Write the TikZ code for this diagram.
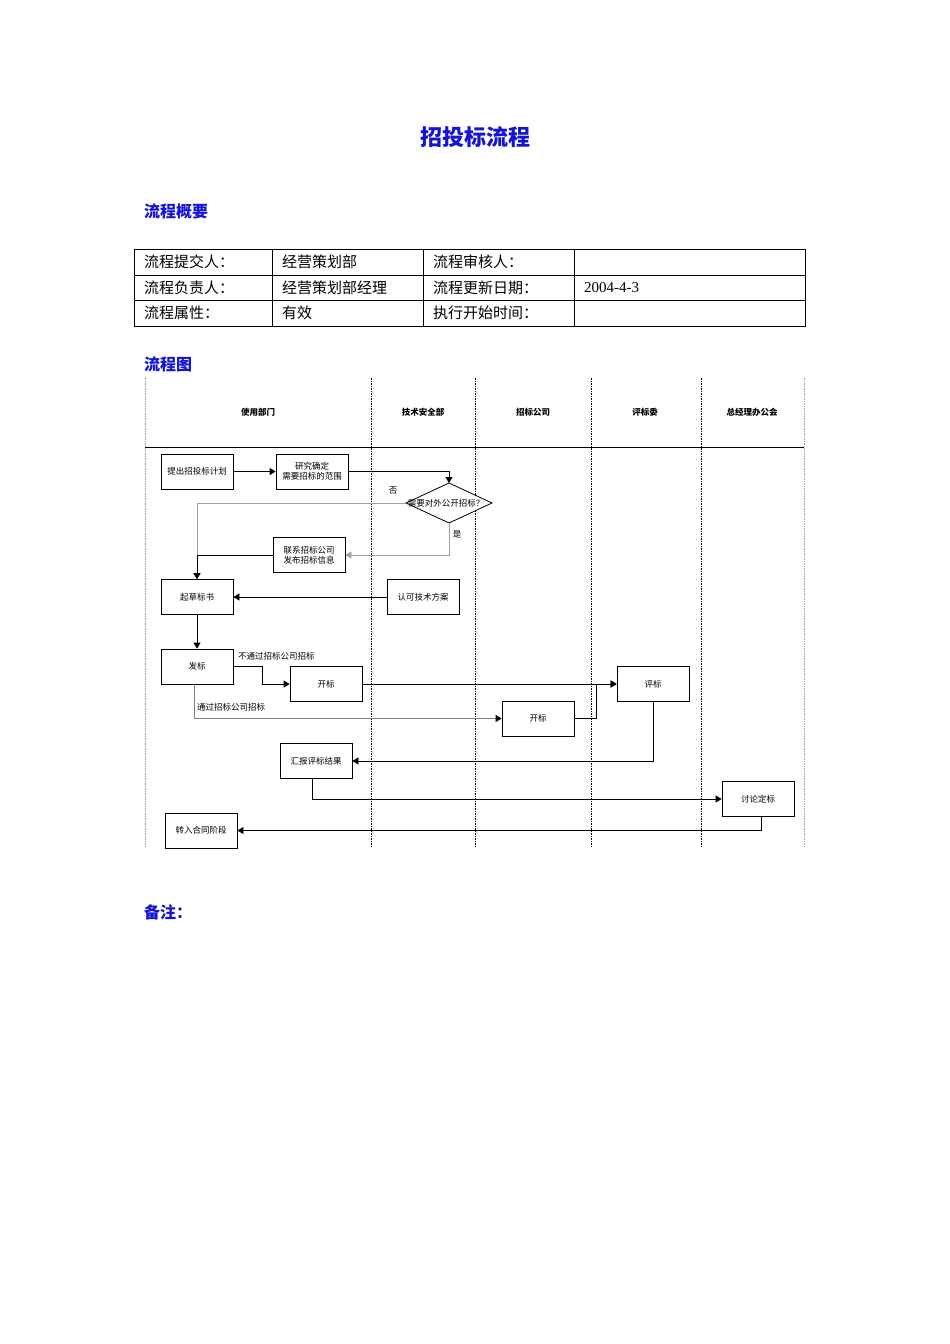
\documentclass[tikz,border=0pt]{standalone}
\usepackage{fontspec}
\setmainfont{Liberation Serif}
\newfontfamily\cjk{Noto Sans CJK SC}
\usetikzlibrary{arrows.meta}
\definecolor{titleblue}{RGB}{20,20,210}
\definecolor{lightline}{RGB}{160,160,160}
\definecolor{midline}{RGB}{130,130,130}
\tikzset{
  stepbox/.style={draw=black, line width=0.8pt, minimum width=72pt, minimum height=35pt, inner sep=0pt, align=center, font=\cjk\fontsize{8.5}{10}\selectfont},
  flow/.style={line width=0.8pt, draw=black, -{Triangle[length=6pt,width=7pt,color=black]}},
  grayflow/.style={line width=0.8pt, draw=lightline, -{Triangle[length=6pt,width=7pt,color=lightline]}},
  midflow/.style={line width=1pt, draw=midline, -{Triangle[length=6pt,width=7pt,color=black]}},
  heading/.style={anchor=west, text=titleblue, font=\cjk\bfseries\fontsize{16}{18}\selectfont, inner sep=0pt},
  cell/.style={anchor=west, inner sep=0pt, font=\cjk\fontsize{15}{17}\selectfont},
  lanehead/.style={font=\cjk\bfseries\fontsize{8.5}{10}\selectfont, inner sep=0pt},
  lane/.style={line width=0.8pt, dash pattern=on 1.5pt off 1pt},
  label/.style={font=\cjk\fontsize{8.5}{10}\selectfont, inner sep=0pt},
}
\begin{document}
\begin{tikzpicture}[x=1pt,y=-1pt]
\useasboundingbox[fill=white] (0,0) rectangle (950,1344);

% Title and headings
\node[text=titleblue, font=\cjk\bfseries\fontsize{22}{24}\selectfont, inner sep=0pt] (title) at (475,137) {招投标流程};
\node[heading] (h1) at (144,211) {流程概要};
\node[heading] (h2) at (144,364) {流程图};
\node[heading] (h3) at (144,912) {备注：};

% Table
\draw[line width=1pt] (134,249) rectangle (805,326);
\draw[line width=0.8pt] (134,275) -- (805,275) (134,300) -- (805,300);
\draw[line width=0.8pt] (272,249) -- (272,326) (423,249) -- (423,326) (574,249) -- (574,326);
\node[cell] (c11) at (144,262) {流程提交人：};
\node[cell] (c12) at (282,262) {经营策划部};
\node[cell] (c13) at (433,262) {流程审核人：};
\node[cell] (c21) at (144,288) {流程负责人：};
\node[cell] (c22) at (282,288) {经营策划部经理};
\node[cell] (c23) at (433,288) {流程更新日期：};
\node[anchor=west, inner sep=0pt, font=\fontsize{15}{17}\selectfont] (c24) at (584,288) {2004-4-3};
\node[cell] (c31) at (144,313) {流程属性：};
\node[cell] (c32) at (282,313) {有效};
\node[cell] (c33) at (433,313) {执行开始时间：};

% Swimlanes
\draw[lane, draw=lightline] (145,378) -- (145,848);
\draw[lane, draw=lightline] (804,378) -- (804,848);
\foreach \lx in {371,475,591,701} {\draw[lane, draw=black] (\lx,378) -- (\lx,848);}
\draw[line width=0.8pt] (145,447) -- (804,447);
\node[lanehead] (l1) at (258,412) {使用部门};
\node[lanehead] (l2) at (423,412) {技术安全部};
\node[lanehead] (l3) at (533,412) {招标公司};
\node[lanehead] (l4) at (645,412) {评标委};
\node[lanehead] (l5) at (752,412) {总经理办公会};

% Nodes
\node[stepbox] (plan) at (197,471.5) {提出招投标计划};
\node[stepbox] (study) at (312,471.5) {研究确定\\需要招标的范围};
\draw[line width=0.8pt, fill=white] (406,503) -- (449,483) -- (492,503) -- (449,523) -- cycle;
\coordinate (diaT) at (449,483);
\coordinate (diaL) at (406,503);
\coordinate (diaB) at (449,523);
\node[label] (diatext) at (446,503) {需要对外公开招标？};
\node[stepbox] (contact) at (309,555) {联系招标公司\\发布招标信息};
\node[stepbox] (draft) at (197,597) {起草标书};
\node[stepbox] (approve) at (423,597) {认可技术方案};
\node[stepbox] (issue) at (197,666.5) {发标};
\node[stepbox] (open1) at (326,684) {开标};
\node[stepbox] (eval) at (653,684) {评标};
\node[stepbox] (open2) at (538,718.5) {开标};
\node[stepbox] (report) at (316,761) {汇报评标结果};
\node[stepbox] (decide) at (758,799) {讨论定标};
\node[stepbox] (contract) at (201,830.5) {转入合同阶段};
\coordinate (issueB) at (194,684);
\coordinate (reportB) at (312,778.5);
\coordinate (decideB) at (761,816.5);

% Connectors
\draw[flow] (plan.east) -- (study.west);
\draw[flow] (study.east) -| (diaT);
\draw[grayflow] (diaL) -| (draft.north);
\node[label] (no) at (393,491) {否};
\draw[grayflow] (diaB) |- (contact.east);
\node[label] (yes) at (457,534) {是};
\draw[flow] (contact.west) -| (draft.north);
\draw[flow] (approve.west) -- (draft.east);
\draw[flow] (draft.south) -- (issue.north);
\draw[flow] (issue.east) -- (262,666.5) |- (open1.west);
\node[label, anchor=west] (notvia) at (238,656) {不通过招标公司招标};
\draw[flow] (open1.east) -- (eval.west);
\draw[midflow] (issueB) |- (open2.west);
\node[label, anchor=west] (via) at (197,707) {通过招标公司招标};
\draw[flow] (open2.east) -- (596,718.5) |- (eval.west);
\draw[flow] (eval.south) |- (report.east);
\draw[flow] (reportB) |- (decide.west);
\draw[flow] (decideB) |- (contract.east);
\end{tikzpicture}
\end{document}
